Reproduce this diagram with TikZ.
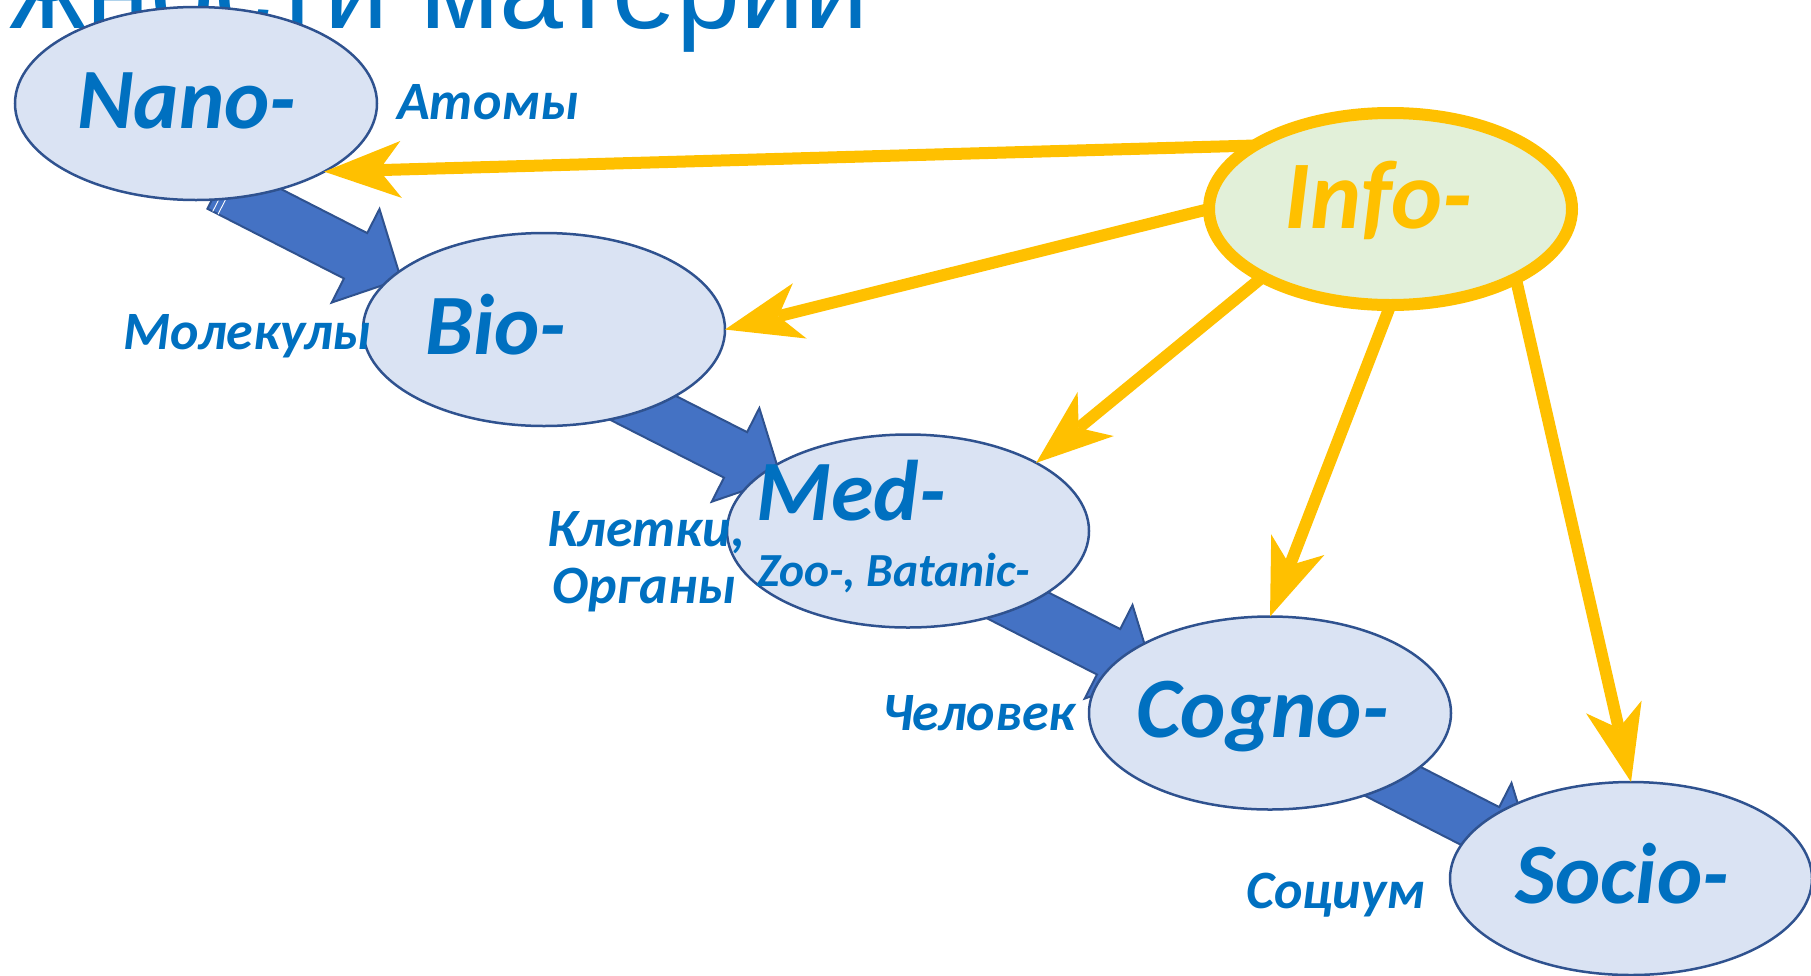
\documentclass[tikz,border=0pt]{standalone}
\usepackage{fontspec}
\setmainfont{Carlito}
\newfontfamily\titlefont{Liberation Sans}
\usetikzlibrary{shapes.geometric,arrows.meta,calc}
\definecolor{txtblue}{HTML}{0070C0}
\definecolor{ovfill}{HTML}{DAE3F3}
\definecolor{ovline}{HTML}{2F528F}
\definecolor{arrfill}{HTML}{4472C4}
\definecolor{gold}{HTML}{FFC000}
\definecolor{infofill}{HTML}{E2F0D9}

% thick block arrow from tail #1 to tip #2
\newcommand\blockarrow[2]{%
  \coordinate (#1-b) at ($(#2)!51pt!(#1)$);
  \filldraw[blockarrow] ($(#1)!25.5pt!90:(#2)$) -- ($(#1-b)!25.5pt!90:(#2)$)
    -- ($(#1-b)!52.5pt!90:(#2)$) -- (#2) -- ($(#1-b)!52.5pt!-90:(#2)$)
    -- ($(#1-b)!25.5pt!-90:(#2)$) -- ($(#1)!25.5pt!-90:(#2)$) -- cycle;
}

\begin{document}
\begin{tikzpicture}[x=1pt,y=-1pt,
  level/.style={ellipse, minimum width=362pt, minimum height=193pt, inner sep=0pt,
    outer sep=0pt, draw=ovline, line width=2.5pt, fill=ovfill},
  infoshape/.style={ellipse, minimum width=363pt, minimum height=192pt, inner sep=0pt, outer sep=0pt},
  infonode/.style={infoshape, draw=gold, line width=12pt, fill=infofill},
  lvltext/.style={anchor=base west, inner sep=0pt, text=txtblue,
    font=\fontsize{86}{90}\selectfont\bfseries\itshape},
  sidetext/.style={anchor=base west, inner sep=0pt, text=txtblue,
    font=\fontsize{54}{58}\selectfont\bfseries\itshape},
  infolink/.style={draw=gold, line width=12pt,
    -{Stealth[length=77pt, width=57pt, inset=22pt, line width=0pt]}},
  blockarrow/.style={fill=arrfill, draw=ovline, line width=2pt, line join=miter},
]
\useasboundingbox (0,0) rectangle (1811,975);

% heading, partly outside the frame
\node[anchor=base east, inner sep=0pt, text=txtblue,
  font=\titlefont\fontsize{115}{120}\selectfont] (title) at (869,28) {жности материи};

% block arrows between the levels
\coordinate (a1t) at (219,186);  \coordinate (a1p) at (401,279);
\coordinate (a2t) at (598,385);  \coordinate (a2p) at (781,478);
\coordinate (a3t) at (972,582);  \coordinate (a3p) at (1154,675);
\coordinate (a4t) at (1351,760); \coordinate (a4p) at (1533,853);
\blockarrow{a1t}{a1p}
\blockarrow{a2t}{a2p}
\blockarrow{a3t}{a3p}
\blockarrow{a4t}{a4p}
% overlapping edges at the tail of the first arrow
\draw[white, line width=0.9pt]
  ($($(a1t)!6pt!(a1p)$)!25.5pt!-90:(a1p)$) -- ($($(a1t)!6pt!(a1p)$)!8pt!-90:(a1p)$);
\draw[white, line width=0.9pt]
  ($($(a1t)!12pt!(a1p)$)!25.5pt!-90:(a1p)$) -- ($($(a1t)!12pt!(a1p)$)!8pt!-90:(a1p)$);

% levels
\node[level] (nano)  at (196,103.5) {};
\node[level] (bio)   at (544,329.5) {};
\node[level] (med)   at (908,531) {};
\node[level] (cogno) at (1270,713) {};
\node[level] (socio) at (1631,878.5) {};
\node[infoshape] (info) at (1390.5,209) {};

% links from Info
\draw[infolink] (info.155) -- (nano.-28);
\draw[infolink] (info.west) -- (bio.east);
\draw[infolink] (info.-152) -- (med.28);
\draw[infolink] (info.south) -- (cogno.north);
\draw[infolink] (info.-29) -- (socio.north);

\node[infonode] (infooval) at (info.center) {};

% level names
\node[lvltext] (tnano)  at (77,128)  {Nano-};
\node[lvltext] (tbio)   at (425,354) {Bio-};
\node[lvltext] (tmed)   at (756,520) {Med-};
\node[lvltext, font=\fontsize{47.5}{50}\selectfont\bfseries\itshape] (tzoo) at (757,586) {Zoo-, Batanic-};
\node[lvltext] (tcogno) at (1136,737) {Cogno-};
\node[lvltext] (tsocio) at (1515,903) {Socio-};
\node[lvltext, text=gold, font=\fontsize{97}{100}\selectfont\bfseries\itshape] (tinfo) at (1284,228) {Info-};

% what each level is made of
\node[sidetext] (atoms)  at (397,119) {Атомы};
\node[sidetext] (mols)   at (123,349) {Молекулы};
\node[sidetext] (cells)  at (547,546) {Клетки,};
\node[sidetext] (organs) at (552,603) {Органы};
\node[sidetext] (human)  at (882,730) {Человек};
\node[sidetext] (soc)    at (1246,908) {Социум};
\end{tikzpicture}
\end{document}
